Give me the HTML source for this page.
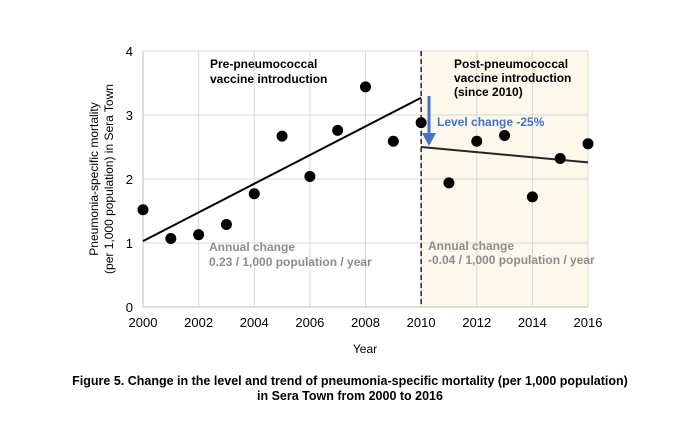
<!DOCTYPE html>
<html><head><meta charset="utf-8"><style>
body{margin:0;background:#fff;}
svg text{font-family:"Liberation Sans",Arial,sans-serif;}
</style></head><body>
<svg width="700" height="433" viewBox="0 0 700 433">
<g id="g"></g>
</svg>
<script>
const years=[2000,2001,2002,2003,2004,2005,2006,2007,2008,2009,2010,2011,2012,2013,2014,2015,2016];
const mortality=[1.52,1.07,1.13,1.29,1.77,2.67,2.04,2.76,3.44,2.59,2.88,1.94,2.59,2.68,1.72,2.32,2.55];
const preTrend=[[2000,1.03],[2010,3.27]];
const postTrend=[[2010,2.5],[2016,2.26]];
const xTicks=[2000,2002,2004,2006,2008,2010,2012,2014,2016];
const yTicks=[0,1,2,3,4];
const X=v=>143+(v-2000)*(588-143)/16;
const Y=v=>307-v*(307-51)/4;
const NS="http://www.w3.org/2000/svg";
const g=document.getElementById('g');
function mk(t,a,txt){const e=document.createElementNS(NS,t);for(const k in a)e.setAttribute(k,a[k]);if(txt!==undefined)e.textContent=txt;g.appendChild(e);return e;}
let e;
e=mk('rect',{x:X(2010),y:Y(4),width:X(2016)-X(2010),height:Y(0)-Y(4),fill:'#fcf8ec'});


yTicks.forEach(v=>{
 e=mk('line',{x1:X(2000),x2:X(2016),y1:Y(v),y2:Y(v),stroke:'#d9d9d9','stroke-width':1});
 
 
 e=mk('text',{x:X(2000)-10,y:Y(v)+5,'text-anchor':'end','font-size':13,fill:'#000'},v);
 
 
});
xTicks.forEach(v=>{
 e=mk('line',{x1:X(v),x2:X(v),y1:Y(4),y2:Y(0),stroke:'#d9d9d9','stroke-width':1});
 
 
 e=mk('text',{x:X(v),y:Y(0)+20,'text-anchor':'middle','font-size':13,fill:'#000'},v);
 
 
});
e=mk('line',{x1:X(2000),x2:X(2000),y1:Y(4),y2:Y(0),stroke:'#bfbfbf'});


e=mk('line',{x1:X(2000),x2:X(2016),y1:Y(0),y2:Y(0),stroke:'#bfbfbf'});


e=mk('line',{x1:X(2010),x2:X(2010),y1:Y(4),y2:Y(0),stroke:'#000','stroke-width':1.3,'stroke-dasharray':'5,3'});


e=mk('line',{x1:X(preTrend[0][0]),y1:Y(preTrend[0][1]),x2:X(preTrend[1][0]),y2:Y(preTrend[1][1]),stroke:'#000','stroke-width':2});


e=mk('line',{x1:X(postTrend[0][0]),y1:Y(postTrend[0][1]),x2:X(postTrend[1][0]),y2:Y(postTrend[1][1]),stroke:'#262626','stroke-width':2});


years.forEach((y,i)=>{
 e=mk('circle',{cx:X(y),cy:Y(mortality[i]),r:5.5,fill:'#000'});
 
 
});
e=mk('line',{x1:429,y1:96,x2:429,y2:137,stroke:'#4472c4','stroke-width':3});


e=mk('polygon',{points:'422,133 436,133 429,146',fill:'#4472c4'});


function txt(x,y,s,name,fill,size,w,anchor){e=mk('text',{x:x,y:y,'font-size':size||12,'font-weight':w||'bold',fill:fill||'#000','text-anchor':anchor||'start'},s);return e;}
txt(210,68,'Pre-pneumococcal','pre-label');
txt(210,83,'vaccine introduction','pre-label');
txt(454,68,'Post-pneumococcal','post-label');
txt(454,82,'vaccine introduction','post-label');
txt(454,96,'(since 2010)','post-label');
txt(437,126,'Level change -25%','level-change-label','#4472c4');
txt(209,251,'Annual change','pre-annual-change','#8c8c8c');
txt(209,266,'0.23 / 1,000 population / year','pre-annual-change','#8c8c8c');
txt(428,250,'Annual change','post-annual-change','#8c8c8c');
txt(428,264,'-0.04 / 1,000 population / year','post-annual-change','#8c8c8c');
txt(365,353,'Year','x-axis-title','#000',12,'normal','middle');
e=mk('text',{transform:'translate(98,179) rotate(-90)','font-size':12,'text-anchor':'middle',fill:'#000'},'Pneumonia-specific mortality');


e=mk('text',{transform:'translate(113,179) rotate(-90)','font-size':12,'text-anchor':'middle',fill:'#000'},'(per 1,000 population) in Sera Town');


txt(350,385,'Figure 5. Change in the level and trend of pneumonia-specific mortality (per 1,000 population)','figure-caption','#000',12.5,'bold','middle');
txt(350,400,'in Sera Town from 2000 to 2016','figure-caption','#000',12.5,'bold','middle');
</script>
</body></html>
